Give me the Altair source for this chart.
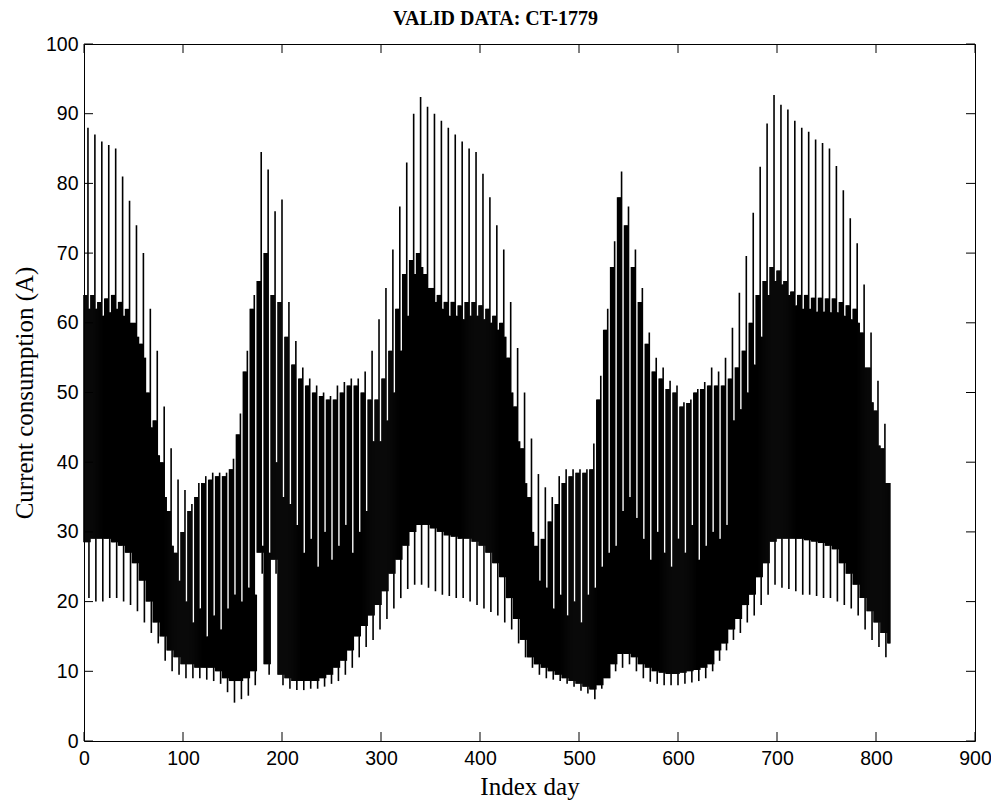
import altair as alt
import pandas as pd

# Weekly readings (week w covers days 7w .. 7w+6), values in A
peak = [88, 87, 86, 85.5, 85, 81, 77.5, 74, 70, 62,
        56, 48, 42, 37.5, 36, 34, 37, 38, 38.5, 38.5,
        38.5, 40.5, 47, 56, 64, 84.5, 82, 76, 77.7, 63,
        57.4, 53.6, 52, 51, 50, 49.5, 51, 51.5, 52, 52,
        53, 56, 60.5, 65, 70.5, 76.7, 83, 90, 92.4, 91,
        90, 89, 88, 87, 86, 85, 84.5, 81.4, 78, 74,
        70.5, 63, 56.4, 50, 43.4, 38.3, 36.4, 35, 38, 39,
        39, 39, 39, 42.7, 52.4, 62, 71.7, 81.7, 76.7, 70.5,
        65, 58.6, 55, 53.6, 51.7, 51, 48.6, 49, 50.5, 51.5,
        53.6, 53, 55, 59.3, 64.3, 69.6, 75.8, 82.4, 88.6, 92.7,
        91.3, 90.6, 89, 88, 87.4, 86.3, 85.8, 85, 82.5, 79,
        75, 71.4, 65.5, 58.6, 51.7, 45.5, 40]
top = [64, 64, 63, 63.5, 64, 63, 62, 60, 57, 50,
       46, 40, 33, 27, 30, 33, 35, 37, 37.5, 38,
       38, 39, 44, 53, 62, 66, 70, 64, 63, 58,
       54, 52, 51, 50, 49.5, 49, 49, 50, 51, 51,
       50, 49, 49, 52, 56, 62, 67, 69, 70, 67,
       65, 64, 63, 63, 62.5, 63, 63, 62.5, 62, 61,
       60, 55, 48, 42, 35, 28, 29, 31.5, 34, 37,
       38, 38.5, 38.5, 39, 49, 59, 68, 78, 74, 68,
       63, 57, 53, 52, 50.5, 50, 48, 48.5, 50, 50.5,
       51, 51, 51, 52, 53.6, 56, 60, 64, 66, 68,
       67.5, 66, 64.5, 64, 64, 63.6, 63.6, 63.5, 63.5, 63,
       62.5, 62, 58.6, 53.6, 47.4, 42, 37]
gap = [62, 62, 61, 61.5, 62, 61, 60, 58, 55, 45,
       41, 35, 28, 23, 20, 17, 19, 15, 18, 16,
       19, 21, 20, 22, 21, 28, 27, 40, 35, 34,
       31, 27, 29, 25, 30, 26, 28, 31, 27, 30,
       33, 43, 43, 46, 50, 56, 61, 67, 68, 65,
       63, 62, 61, 61, 60.5, 61, 61, 60.5, 60, 59,
       58, 50, 43, 37, 30, 23, 22, 19, 21, 18,
       20, 17, 21, 22, 25, 27, 28, 33, 35, 32,
       29, 26, 30, 27, 25, 29, 27, 31, 26, 28,
       30, 29, 31, 46, 47.6, 50, 54, 58, 64, 66,
       65.5, 64, 62.5, 62, 62, 61.6, 61.6, 61.5, 61.5, 61,
       60.5, 60, 53.6, 48.6, 42.4, 37, 32]
low = [28.5, 29, 29, 29, 28.5, 28, 27, 25.5, 23, 20,
       17, 15, 13, 12, 11, 11, 10.5, 10.5, 10.5, 10,
       9, 8.6, 8.6, 9, 10, 27, 11, 26, 9.5, 9,
       8.6, 8.6, 8.6, 8.6, 9, 9.5, 10.5, 11.5, 13, 15,
       16.5, 18, 19.5, 21.5, 24, 26, 28, 30, 31, 31,
       30.5, 30, 29.5, 29.3, 29, 29, 28.6, 28, 27, 25.5,
       23.5, 20.5, 17.5, 14.5, 12, 11, 10.5, 10, 9.5, 9,
       8.6, 8.2, 7.8, 7.4, 8, 9, 11, 12.5, 12.5, 12,
       11, 10.5, 10, 9.8, 9.6, 9.6, 9.8, 10, 10.2, 10.5,
       11, 13, 14, 16, 17.5, 19.5, 21, 23.5, 25.5, 28.6,
       29, 29, 29, 29, 28.8, 28.6, 28.4, 28, 27.5, 25.5,
       24, 22.4, 20.5, 18.6, 17, 15.5, 14]
dip = [20.5, 20, 20, 20.5, 20.5, 20, 19.5, 18.6, 17, 15.5,
       14, 11.5, 10, 9.5, 9, 9, 9, 8.8, 8.6, 8.2,
       7, 5.5, 6, 6.5, 8, 24, 9.5, 24, 8, 7.5,
       7.3, 7.3, 7.5, 7.5, 7.8, 8.2, 8.6, 9.5, 10.5, 12,
       13.5, 14.5, 16, 17.5, 19, 20.5, 21.8, 22.4, 22.4, 22,
       21.5, 21, 20.8, 20.5, 20.5, 20, 19.5, 19, 18.5, 18,
       17, 16, 14, 12, 10.5, 9.5, 9, 8.8, 8.6, 8.2,
       7.8, 7.2, 6.8, 6, 7.5, 9, 10, 10.5, 11, 10,
       9, 8.5, 8.2, 8, 8, 8, 8.2, 8.4, 8.6, 9,
       10, 11.5, 13, 14.5, 15.5, 17, 18, 19.5, 21, 22.4,
       22, 21.8, 21.5, 21, 21, 20.8, 20.5, 20.5, 20, 19.5,
       19, 18, 16, 14.5, 13.5, 12, 10.5]

N_DAYS = 815
x_ticks = list(range(0, 901, 100))
y_ticks = list(range(0, 101, 10))

rows = []
for d in range(N_DAYS):
    w, o = divmod(d, 7)
    if o == 4:
        hi, lo = peak[w], low[w]
    elif o == 5:
        hi, lo = gap[w], dip[w]
    elif o == 6:
        hi, lo = gap[w], low[w]
    else:
        hi, lo = top[w], low[w]
    rows.append({"day": d, "lo": lo, "hi": hi})
df = pd.DataFrame(rows)

W, H = 891, 697
TL = 9
xs = alt.Scale(domain=[0, 900], nice=False, zero=False)
ys = alt.Scale(domain=[0, 100], nice=False, zero=False)

x_axis = alt.Axis(title="Index day", values=x_ticks, format="d", labelFlush=False,
                  labelPadding=8, titleY=45, titleBaseline="middle")
y_axis = alt.Axis(title="Current consumption (A)", values=y_ticks, format="d",
                  labelFlush=False, labelPadding=6, titleX=-60, titleBaseline="middle")

signal = alt.Chart(df).mark_rule(color="black", strokeWidth=1.6).encode(
    x=alt.X("day:Q", scale=xs, axis=x_axis, title="Index day"),
    y=alt.Y("lo:Q", scale=ys, axis=y_axis, title="Current consumption (A)"),
    y2="hi:Q",
)

xt = pd.DataFrame({"t": x_ticks})
yt = pd.DataFrame({"t": y_ticks})
tick_style = dict(color="black", strokeWidth=1)
xb = alt.Chart(xt).mark_rule(**tick_style).encode(
    x=alt.X("t:Q", scale=xs, axis=x_axis, title="Index day"),
    y=alt.value(H), y2=alt.value(H - TL))
xtop = alt.Chart(xt).mark_rule(**tick_style).encode(
    x=alt.X("t:Q", scale=xs, axis=x_axis, title="Index day"),
    y=alt.value(0), y2=alt.value(TL))
yl = alt.Chart(yt).mark_rule(**tick_style).encode(
    y=alt.Y("t:Q", scale=ys, axis=y_axis, title="Current consumption (A)"),
    x=alt.value(0), x2=alt.value(TL))
yr = alt.Chart(yt).mark_rule(**tick_style).encode(
    y=alt.Y("t:Q", scale=ys, axis=y_axis, title="Current consumption (A)"),
    x=alt.value(W), x2=alt.value(W - TL))

chart = alt.layer(signal, xb, xtop, yl, yr).properties(
    width=W, height=H,
    title=alt.Title("VALID DATA: CT-1779", font="Liberation Serif", fontSize=20,
                    fontWeight="bold", color="black", anchor="middle", dx=-34,
                    baseline="alphabetic", offset=-11),
    padding={"left": 84, "top": 44, "right": 16, "bottom": 62},
    autosize=alt.AutoSizeParams(type="none"),
    background="white",
).configure_view(stroke="black", strokeWidth=1).configure_axis(
    grid=False, ticks=False, tickSize=0, domain=False,
    labelFont="Liberation Sans", labelFontSize=19.5, labelColor="black",
    titleFont="Liberation Serif", titleFontSize=25, titleFontWeight="normal",
    titleColor="black",
)

chart.save("out.html", embed_options={"renderer": "svg", "actions": False})
